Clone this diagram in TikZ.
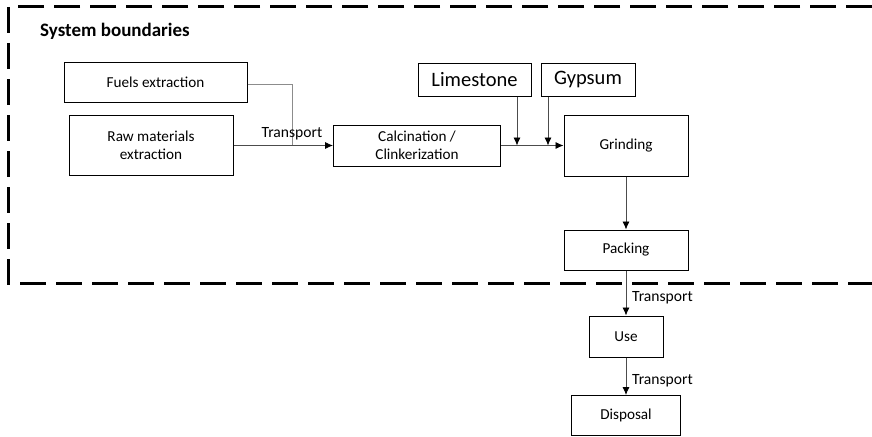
\documentclass[tikz,border=0pt]{standalone}
\usepackage{fontspec}
\setmainfont{Carlito}
\usetikzlibrary{arrows.meta}
\begin{document}
\begin{tikzpicture}[x=1pt,y=-1pt,
  box/.style={draw=black,line width=1pt,inner sep=0pt,align=center,font=\fontsize{15.2}{18}\selectfont},
  bigbox/.style={draw=black,line width=1pt,inner sep=0pt,align=center,font=\fontsize{20.5}{24}\selectfont},
  conn/.style={draw=black!70,line width=0.8pt},
  arr/.style={conn,-{Latex[length=8pt,width=7pt,color=black]}},
  lbl/.style={font=\fontsize{15.6}{18}\selectfont,inner sep=0pt},
  bound/.style={line width=3pt,dash pattern=on 26pt off 10pt}]
\useasboundingbox (0,0) rectangle (872,436);
% system boundary
\draw[bound] (872,7) -- (8,7) -- (8,283) -- (872,283);
\node[font=\bfseries\fontsize{19}{22}\selectfont,anchor=west,inner sep=0pt] (sb) at (40,31) {System boundaries};
% boxes
\node[box,minimum width=183pt,minimum height=39pt] (fuels) at (155.5,82.5) {Fuels extraction};
\node[box,minimum width=164pt,minimum height=60pt] (raw) at (151,145.5) {Raw materials\\extraction};
\node[box,minimum width=167pt,minimum height=41pt] (calc) at (417,145.5) {Calcination /\\Clinkerization};
\node[bigbox,minimum width=113pt,minimum height=32pt] (lime) at (474.5,80) {Limestone};
\node[bigbox,minimum width=94pt,minimum height=32pt] (gyp) at (588,80) {Gypsum};
\node[box,minimum width=124pt,minimum height=61pt] (grind) at (626,145.5) {Grinding};
\node[box,minimum width=124pt,minimum height=40pt] (pack) at (626,250) {Packing};
\node[box,minimum width=74pt,minimum height=41pt] (use) at (626,336.5) {Use};
\node[box,minimum width=109pt,minimum height=40pt] (disp) at (626,415.5) {Disposal};
% junction coordinates
\coordinate (jf) at (292,145.5);
\coordinate (jl) at (517,145.5);
\coordinate (jg) at (548,145.5);
% connectors
\draw[conn,draw=black!45] (fuels.east |- 0,84) -| (jf);
\draw[arr] (raw.east) -- (calc.west);
\draw[arr] (lime.south -| jl) -- (jl);
\draw[arr] (gyp.south -| jg) -- (jg);
\draw[arr] (calc.east) -- (grind.west);
\draw[arr] (grind.south) -- (pack.north);
\draw[arr] (pack.south) -- (use.north);
\draw[arr] (use.south) -- (disp.north);
% labels
\node[lbl] (t1) at (292,134) {Transport};
\node[lbl,anchor=west] (t2) at (632,298) {Transport};
\node[lbl,anchor=west] (t3) at (632,381) {Transport};
\end{tikzpicture}
\end{document}
